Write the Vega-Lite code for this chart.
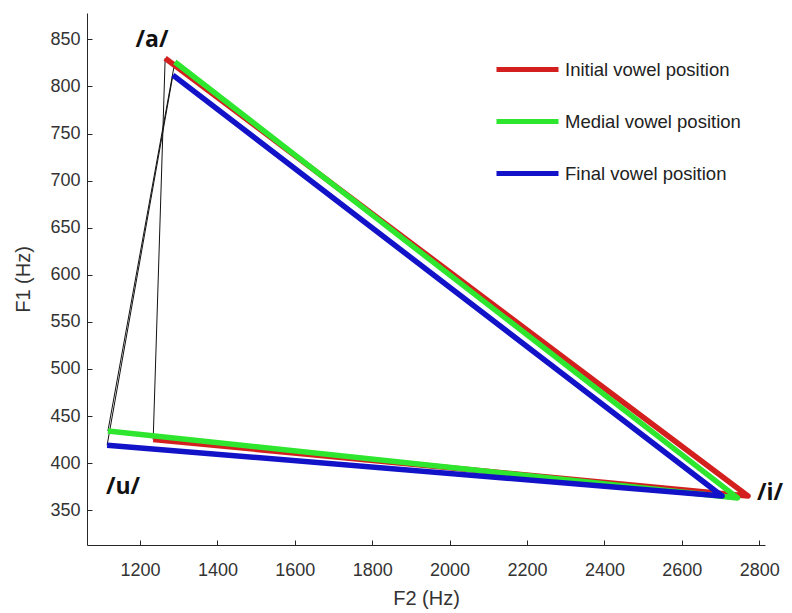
{
  "$schema": "https://vega.github.io/schema/vega-lite/v6.json",
  "width": 678,
  "height": 532,
  "autosize": {"type": "none"},
  "padding": {"left": 87, "top": 13, "right": 27, "bottom": 68},
  "background": "white",
  "config": {
    "view": {"stroke": null},
    "font": "Liberation Sans",
    "axis": {
      "domainColor": "#262626",
      "domainWidth": 1,
      "tickColor": "#262626",
      "tickWidth": 1,
      "tickSize": -5,
      "grid": false,
      "format": "d",
      "labelFont": "Liberation Sans",
      "labelFontSize": 18,
      "labelColor": "#333333",
      "titleFont": "Liberation Sans",
      "titleFontSize": 20,
      "titleFontWeight": "normal",
      "titleColor": "#333333"
    }
  },
  "datasets": {
    "vertices": [
      {"position": "Initial vowel position", "vowel": "a", "step": 1, "F2": 1265, "F1": 830},
      {"position": "Initial vowel position", "vowel": "i", "step": 2, "F2": 2771, "F1": 365},
      {"position": "Initial vowel position", "vowel": "u", "step": 3, "F2": 1234, "F1": 425},
      {"position": "Medial vowel position", "vowel": "a", "step": 1, "F2": 1290, "F1": 826},
      {"position": "Medial vowel position", "vowel": "i", "step": 2, "F2": 2744, "F1": 363},
      {"position": "Medial vowel position", "vowel": "u", "step": 3, "F2": 1117, "F1": 434},
      {"position": "Final vowel position", "vowel": "a", "step": 1, "F2": 1285, "F1": 812},
      {"position": "Final vowel position", "vowel": "i", "step": 2, "F2": 2704, "F1": 365},
      {"position": "Final vowel position", "vowel": "u", "step": 3, "F2": 1115, "F1": 419}
    ],
    "vowelLabels": [
      {"label": "/a/", "F2": 1231, "F1": 849},
      {"label": "/u/", "F2": 1156, "F1": 375},
      {"label": "/i/", "F2": 2828, "F1": 368}
    ]
  },
  "encoding": {
    "x": {
      "field": "F2",
      "type": "quantitative",
      "scale": {"domain": [1063, 2815], "nice": false, "zero": false},
      "axis": {
        "title": "F2 (Hz)",
        "values": [1200, 1400, 1600, 1800, 2000, 2200, 2400, 2600, 2800],
        "labelPadding": 21,
        "titlePadding": 9
      }
    },
    "y": {
      "field": "F1",
      "type": "quantitative",
      "scale": {"domain": [313, 878], "nice": false, "zero": false},
      "axis": {
        "title": "F1 (Hz)",
        "values": [350, 400, 450, 500, 550, 600, 650, 700, 750, 800, 850],
        "labelPadding": 12,
        "titlePadding": 16
      }
    }
  },
  "layer": [
    {
      "data": {"name": "vertices"},
      "transform": [{"filter": {"field": "vowel", "oneOf": ["a", "u"]}}],
      "mark": {"type": "line", "color": "#111111", "strokeWidth": 1},
      "encoding": {
        "detail": {"field": "position"},
        "order": {"field": "step"}
      }
    },
    {
      "data": {"name": "vertices"},
      "mark": {"type": "line", "strokeWidth": 5.5, "strokeJoin": "round"},
      "encoding": {
        "order": {"field": "step"},
        "color": {
          "field": "position",
          "type": "nominal",
          "scale": {
            "domain": ["Initial vowel position", "Medial vowel position", "Final vowel position"],
            "range": ["#d41f1f", "#2ee62e", "#1212c8"]
          },
          "legend": {
            "title": null,
            "orient": "none",
            "legendX": 407,
            "legendY": 23,
            "symbolType": "stroke",
            "symbolSize": 3844,
            "symbolStrokeWidth": 5,
            "labelFont": "Liberation Sans",
            "labelFontSize": 18.5,
            "labelColor": "#222222",
            "labelOffset": 4,
            "labelLimit": 300,
            "rowPadding": 8
          }
        }
      }
    },
    {
      "data": {"name": "vowelLabels"},
      "mark": {
        "type": "text",
        "font": "Open Sans",
        "fontWeight": "bold",
        "fontSize": 23,
        "align": "center",
        "baseline": "middle",
        "color": "#111111"
      },
      "encoding": {
        "text": {"field": "label"}
      }
    }
  ]
}
